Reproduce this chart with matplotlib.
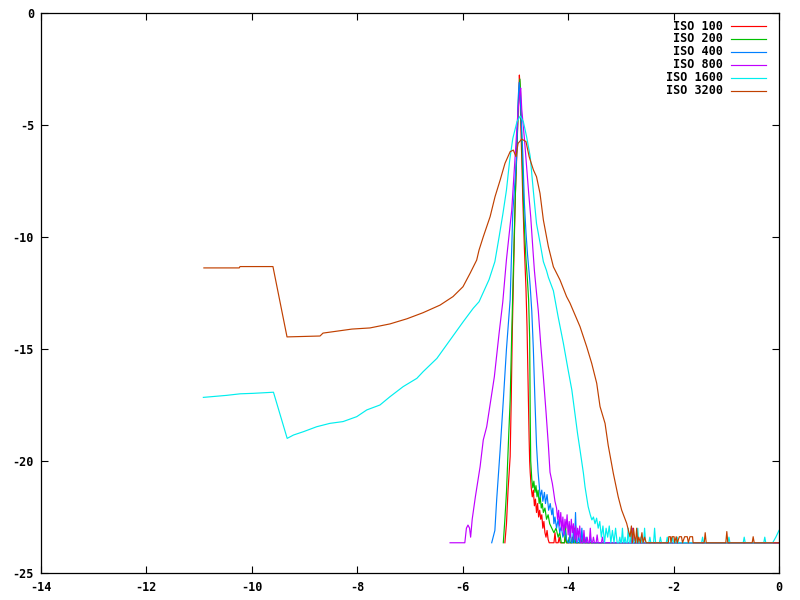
import matplotlib
matplotlib.use("Agg")
import matplotlib.pyplot as plt

plt.rcParams['font.family'] = ['DejaVu Sans Mono']
plt.rcParams['font.weight'] = 'bold'
plt.rcParams['axes.unicode_minus'] = False

F = -23.65   # floor level (empty bins)
W = 0.019    # one bin width

labels = ["ISO 100", "ISO 200", "ISO 400", "ISO 800", "ISO 1600", "ISO 3200"]
colors = ["#ff0000", "#00c000", "#0080ff", "#c000ff", "#00eeee", "#c04000"]

iso100_x = [-5.20, -5.17, -5.14, -5.10, -5.08, -5.06, -5.03, -5.00, -4.97, -4.95, -4.935,
            -4.925, -4.915, -4.90, -4.88, -4.86, -4.83, -4.80, -4.78, -4.76, -4.74, -4.73,
            -4.72, -4.70, -4.68, -4.66, -4.64, -4.62, -4.60, -4.58, -4.56, -4.54, -4.52,
            -4.50, -4.48, -4.46, -4.44, -4.42, -4.40, -4.38, -4.36]
iso100_y = [F, -22.8, -21.3, -19.8, -17.3, -14.3, -11.0, -8.0, -6.0, -4.5, -3.5,
            -2.77, -3.2, -4.8, -6.5, -8.3, -10.5, -12.3, -14.0, -16.5, -19.0, -20.0,
            -20.5, -21.2, -21.6, -21.3, -22.0, -21.7, -22.3, -21.9, -22.5, -22.2, -22.6,
            -22.4, -23.0, -22.7, -23.2, -23.4, -23.1, -23.5, F]
iso100_sx = [-4.25, -4.17, -4.05, -3.92, -3.70]
iso100_sy = [-23.2, -23.4, -23.4, -23.4, -23.4]

iso200_x = [-5.23, -5.20, -5.17, -5.13, -5.10, -5.07, -5.04, -5.01, -4.98, -4.955, -4.935,
            -4.915, -4.905, -4.89, -4.87, -4.85, -4.83, -4.80, -4.77, -4.75, -4.73, -4.72,
            -4.71, -4.69, -4.67, -4.65, -4.63, -4.61, -4.59, -4.57, -4.55, -4.53, -4.51,
            -4.49, -4.47, -4.44, -4.41, -4.38, -4.35, -4.31, -4.27, -4.23, -4.19, -4.16, -4.13]
iso200_y = [F, -22.6, -21.4, -19.0, -17.3, -14.3, -11.5, -8.8, -6.5, -4.8, -3.6,
            -2.95, -3.4, -4.8, -6.5, -8.2, -9.6, -11.0, -12.0, -12.8, -14.5, -17.9,
            -20.0, -20.8, -21.2, -20.9, -21.4, -21.1, -21.6, -21.3, -21.9, -21.6, -22.1,
            -21.9, -22.3, -22.1, -22.6, -22.4, -22.8, -23.0, -23.2, -23.0, -23.4, -23.2, F]
iso200_sx = [-4.05, -3.98, -3.88, -3.76]
iso200_sy = [-22.9, -23.4, -23.0, -23.4]

iso400_x = [-5.45, -5.39, -5.355, -5.29, -5.23, -5.17, -5.10, -5.05, -4.98, -4.95, -4.93,
            -4.91, -4.89, -4.86, -4.83, -4.80, -4.77, -4.74, -4.72, -4.69, -4.66, -4.63,
            -4.60, -4.57, -4.53, -4.50, -4.48, -4.45, -4.43, -4.40, -4.37, -4.34, -4.31,
            -4.29, -4.27, -4.25, -4.22, -4.19, -4.16, -4.13, -4.10, -4.06, -4.03, -4.00]
iso400_y = [F, -23.1, -21.7, -19.5, -17.3, -15.0, -12.8, -8.9, -6.56, -3.9, -3.1,
            -3.6, -4.8, -6.3, -8.5, -9.8, -10.8, -11.6, -12.2, -13.3, -15.0, -17.3,
            -19.3, -20.5, -21.6, -21.3, -21.8, -21.4, -21.9, -21.5, -22.2, -21.9, -22.4,
            -22.1, -22.8, -22.5, -23.0, -22.6, -23.2, -22.9, -23.4, -23.1, -23.5, F]
iso400_sx = [-3.96, -3.90, -3.86, -3.80, -3.74, -3.66, -3.58]
iso400_sy = [-22.9, -23.1, -22.3, -23.3, -23.0, -23.4, -23.4]

iso800_x = [-6.24, -5.96, -5.93, -5.90, -5.87, -5.85, -5.82, -5.76, -5.67, -5.61, -5.545,
            -5.40, -5.31, -5.24, -5.17, -5.07, -5.01, -4.95, -4.915, -4.90, -4.88, -4.83,
            -4.79, -4.75, -4.71, -4.67, -4.64, -4.60, -4.566, -4.52, -4.47, -4.42, -4.375,
            -4.344, -4.30, -4.28, -4.25, -4.22, -4.20, -4.18, -4.16, -4.14, -4.12, -4.10,
            -4.08, -4.06, -4.04, -4.02, -4.00, -3.98, -3.96, -3.94, -3.92, -3.90, -3.88,
            -3.86, -3.84, -3.82, -3.80, -3.78, -3.76]
iso800_y = [F, F, -23.0, -22.86, -23.0, -23.4, -22.6, -21.6, -20.25, -19.06, -18.47,
            -16.24, -14.3, -12.9, -11.0, -8.8, -6.56, -4.33, -3.57, -3.35, -4.3, -5.6,
            -6.8, -8.0, -9.1, -10.5, -11.5, -12.5, -13.3, -14.8, -16.24, -17.8, -19.3,
            -20.5, -21.0, -21.3, -21.8, -22.1, -22.6, -22.2, -22.9, -22.3, -23.1, -22.5,
            -23.3, -22.6, -23.0, -22.4, -23.3, -22.7, -23.4, -22.6, -23.2, -22.8, -23.5,
            -22.9, -23.6, -23.0, -23.4, -22.9, F]
iso800_sx = [-3.70, -3.64, -3.58, -3.52, -3.45, -3.35, -2.78]
iso800_sy = [-23.1, -23.4, -23.0, -23.4, -23.3, -23.4, -23.0]

iso1600_x = [-10.92, -10.48, -10.22, -9.98, -9.59, -9.33, -9.21, -9.02, -8.77, -8.52, -8.27,
             -8.01, -7.82, -7.57, -7.38, -7.13, -6.87, -6.75, -6.49, -6.24, -5.99, -5.80,
             -5.69, -5.615, -5.50, -5.39, -5.31, -5.24, -5.17, -5.11, -5.05, -4.97, -4.91,
             -4.85, -4.79, -4.72, -4.66, -4.60, -4.53, -4.47, -4.41, -4.375, -4.28, -4.19,
             -4.09, -4.00, -3.93, -3.87, -3.82, -3.775, -3.71, -3.68, -3.62, -3.58, -3.55,
             -3.52, -3.49, -3.46, -3.43, -3.40, -3.37, -3.34, -3.31, -3.28, -3.25, -3.22,
             -3.19, -3.16, -3.13, -3.10, -3.07]
iso1600_y = [-17.16, -17.07, -17.0, -16.98, -16.93, -18.99, -18.84, -18.69, -18.47, -18.32, -18.24,
             -18.02, -17.72, -17.5, -17.13, -16.68, -16.31, -16.01, -15.42, -14.6, -13.78, -13.18,
             -12.89, -12.5, -11.9, -11.1, -10.0, -9.0, -7.9, -6.6, -5.6, -4.85, -4.6,
             -4.85, -5.5, -6.4, -7.95, -9.4, -10.3, -11.1, -11.5, -11.8, -12.4, -13.56,
             -14.75, -15.94, -16.83, -17.9, -18.8, -19.5, -20.55, -21.15, -22.04, -22.4, -22.63,
             -22.5, -22.8, -22.55, -23.0, -22.7, -23.4, -22.9, F, -23.0, -23.4, -22.9,
             F, -23.1, F, -23.0, F]
iso1600_sx = [-3.02, -2.97, -2.92, -2.86, -2.80, -2.74, -2.68, -2.62, -2.55, -2.45, -2.36,
              -2.25, -2.12, -2.02, -1.93, -1.45, -0.95, -0.66, -0.27]
iso1600_sy = [-23.4, -23.0, -23.4, -23.0, -23.0, -23.4, -23.0, -23.4, -23.0, -23.4, -23.0,
              -23.4, -23.4, -23.4, -23.4, -23.4, -23.4, -23.4, -23.4]
iso1600_tail_x = [-0.12, -0.06, 0.0]
iso1600_tail_y = [F, -23.4, -23.1]

iso3200_x = [-10.91, -10.24, -10.225, -9.60, -9.333, -8.707, -8.65, -8.10, -7.76, -7.38, -7.057,
             -6.753, -6.43, -6.184, -5.995, -5.86, -5.735, -5.69, -5.61, -5.48, -5.387, -5.29,
             -5.198, -5.10, -5.04, -4.99, -4.95, -4.88, -4.80, -4.74, -4.66, -4.60, -4.534,
             -4.47, -4.375, -4.28, -4.154, -4.03, -3.965, -3.775, -3.648, -3.553, -3.458, -3.395,
             -3.30, -3.24, -3.143, -3.05, -2.985, -2.89, -2.826, -2.80, -2.78, -2.76, -2.74,
             -2.72, -2.70, -2.68, -2.66, -2.63, -2.60, -2.58, -2.55, -2.52, -2.10, -2.09,
             -2.06, -2.05, -2.03, -1.99, -1.98, -1.95, -1.93, -1.89, -1.85, -1.83, -1.79,
             -1.74, -1.72, -1.69, -1.64, -1.63]
iso3200_y = [-11.38, -11.38, -11.32, -11.32, -14.46, -14.42, -14.29, -14.11, -14.06, -13.88, -13.65,
             -13.38, -13.04, -12.66, -12.22, -11.62, -11.03, -10.58, -9.99, -9.09, -8.2, -7.46,
             -6.71, -6.19, -6.12, -6.41, -5.82, -5.63, -5.74, -6.41, -7.0, -7.31, -8.05,
             -9.24, -10.43, -11.33, -11.92, -12.66, -12.95, -14.0, -14.9, -15.64, -16.53, -17.57,
             -18.32, -19.3, -20.55, -21.6, -22.19, -22.78, -23.38, -22.9, F, -23.0, -23.4,
             F, -23.0, F, -23.4, F, -23.2, F, -23.4, F, F, -23.38,
             -23.38, F, -23.38, -23.38, F, -23.38, F, -23.38, -23.38, F, -23.38,
             -23.38, F, -23.38, -23.38, F]
iso3200_sx = [-1.40, -0.99, -0.49]
iso3200_sy = [-23.2, -23.15, -23.38]


def build(xm, ym, sx, sy, tx=None, ty=None):
    xs, ys = list(xm), list(ym)
    for a, b in zip(sx, sy):
        xs += [a - W, a, a + W]
        ys += [F, b, F]
    if tx is None:
        xs.append(0.0)
        ys.append(F)
    else:
        xs += tx
        ys += ty
    return xs, ys


series = [
    build(iso100_x, iso100_y, iso100_sx, iso100_sy),
    build(iso200_x, iso200_y, iso200_sx, iso200_sy),
    build(iso400_x, iso400_y, iso400_sx, iso400_sy),
    build(iso800_x, iso800_y, iso800_sx, iso800_sy),
    build(iso1600_x, iso1600_y, iso1600_sx, iso1600_sy, iso1600_tail_x, iso1600_tail_y),
    build(iso3200_x, iso3200_y, iso3200_sx, iso3200_sy),
]

fig = plt.figure(figsize=(8, 6), dpi=100)
ax = fig.add_axes([41 / 800, 27 / 600, 738 / 800, 560 / 600])

for (xs, ys), c in zip(series, colors):
    ax.plot(xs, ys, color=c, lw=0.85)

ax.set_xlim(-14, 0)
ax.set_ylim(-25, 0)
ax.set_xticks(range(-14, 1, 2))
ax.set_yticks(range(-25, 1, 5))
ax.tick_params(direction='in', length=5, width=0.8, top=True, right=True,
               labelsize=8.5, pad=5)
ax.tick_params(axis='x', pad=6)
for s in ax.spines.values():
    s.set_linewidth(0.9)

# key, right-aligned text with line samples (gnuplot style)
for i, (lab, c) in enumerate(zip(labels, colors)):
    ya = (573 - (26 + 12.9 * i)) / 560
    ax.text((723 - 41) / 738, ya, lab, transform=ax.transAxes, ha='right', va='center',
            fontsize=8.5)
    ax.plot([(731 - 41) / 738, (766 - 41) / 738], [ya, ya], transform=ax.transAxes,
            color=c, lw=0.85)

fig.savefig("out.png", dpi=100)
